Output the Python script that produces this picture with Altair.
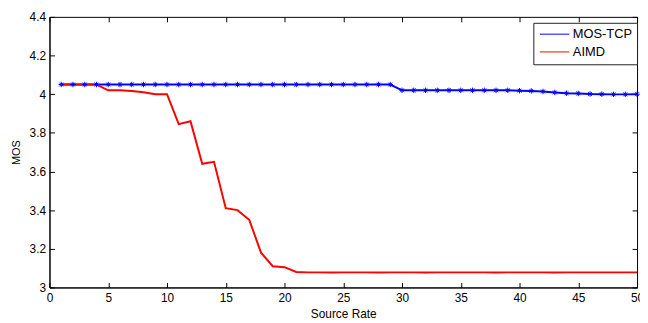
import altair as alt
import pandas as pd

source_rate = [1, 2, 3, 4, 5, 6, 7, 8, 9, 10,
               11, 12, 13, 14, 15, 16, 17, 18, 19, 20,
               21, 22, 23, 24, 25, 26, 27, 28, 29, 30,
               31, 32, 33, 34, 35, 36, 37, 38, 39, 40,
               41, 42, 43, 44, 45, 46, 47, 48, 49, 50]

mos_tcp = [4.05, 4.05, 4.05, 4.05, 4.05, 4.05, 4.05, 4.05, 4.05, 4.05,
           4.05, 4.05, 4.05, 4.05, 4.05, 4.05, 4.05, 4.05, 4.05, 4.05,
           4.05, 4.05, 4.05, 4.05, 4.05, 4.05, 4.05, 4.05, 4.05, 4.02,
           4.02, 4.02, 4.02, 4.02, 4.02, 4.02, 4.02, 4.02, 4.02, 4.018,
           4.017, 4.014, 4.009, 4.005, 4.004, 4.001, 4.0, 3.999, 3.999, 4.0]

aimd = [4.05, 4.05, 4.05, 4.05, 4.02, 4.02, 4.017, 4.01, 4.0, 4.0,
        3.845, 3.86, 3.64, 3.65, 3.41, 3.40, 3.35, 3.18, 3.11, 3.105,
        3.08, 3.078, 3.078, 3.077, 3.078, 3.078, 3.078, 3.077, 3.078, 3.078,
        3.078, 3.077, 3.078, 3.078, 3.078, 3.078, 3.078, 3.077, 3.078, 3.078,
        3.078, 3.078, 3.077, 3.078, 3.078, 3.078, 3.078, 3.078, 3.078, 3.078]

series_names = ["MOS-TCP", "AIMD"]
series_colors = ["#0000ff", "#ff0000"]
x_ticks = [0, 5, 10, 15, 20, 25, 30, 35, 40, 45, 50]
y_ticks = [3.0, 3.2, 3.4, 3.6, 3.8, 4.0, 4.2, 4.4]

df = pd.DataFrame({
    "series": [series_names[0]] * len(source_rate) + [series_names[1]] * len(source_rate),
    "x": source_rate + source_rate,
    "mos": mos_tcp + aimd,
})

W, H = 595, 274
FONT = "Liberation Sans"

xscale = alt.Scale(domain=[0, 50], nice=False, zero=False)
yscale = alt.Scale(domain=[3, 4.4], nice=False, zero=False)
color = alt.Color(
    "series:N",
    scale=alt.Scale(domain=series_names, range=series_colors),
    legend=alt.Legend(
        title=None, orient="none", legendX=490, legendY=6,
        fillColor="white", strokeColor="#222222", padding=5, rowPadding=4,
        symbolType="M-3,0L3,0", symbolSize=100, symbolStrokeWidth=1,
        symbolOffset=10, labelOffset=12,
        labelFont=FONT, labelFontSize=13, labelColor="black",
    ),
)

main_x = alt.Axis(orient="bottom", values=x_ticks, ticks=False, grid=False,
                  labelPadding=5, labelFlush=False, labelOverlap=False,
                  title="Source Rate", titlePadding=5,
                  domainColor="black", labelFont=FONT, labelFontSize=12,
                  labelColor="black", titleFont=FONT, titleFontSize=12,
                  titleFontWeight="normal", titleColor="black")
main_y = alt.Axis(orient="left", values=y_ticks, format=".1~f", ticks=False,
                  grid=False, labelPadding=4, labelFlush=False, labelOverlap=False,
                  title="MOS", titlePadding=8,
                  domainColor="black", labelFont=FONT, labelFontSize=12,
                  labelColor="black", titleFont=FONT, titleFontSize=11,
                  titleFontWeight="normal", titleColor="black")

in_bottom = alt.Axis(orient="top", offset=-H, values=x_ticks, labels=False,
                     domain=False, ticks=True, tickSize=5, tickColor="black",
                     grid=False, title=None)
in_left = alt.Axis(orient="right", offset=-W, values=y_ticks, labels=False,
                   domain=False, ticks=True, tickSize=5, tickColor="black",
                   grid=False, title=None)
in_top = alt.Axis(orient="bottom", offset=-H, values=x_ticks, labels=False,
                  domain=False, ticks=True, tickSize=5, tickColor="black",
                  grid=False, title=None)
in_right = alt.Axis(orient="left", offset=-W, values=y_ticks, labels=False,
                    domain=False, ticks=True, tickSize=5, tickColor="black",
                    grid=False, title=None)

base = alt.Chart(df)

blue_line = base.transform_filter(alt.datum.series == "MOS-TCP").mark_line(
    strokeWidth=2).encode(
    x=alt.X("x:Q", scale=xscale, axis=main_x),
    y=alt.Y("mos:Q", scale=yscale, axis=main_y),
    color=color,
)
red_line = base.transform_filter(alt.datum.series == "AIMD").mark_line(
    strokeWidth=2).encode(
    x=alt.X("x:Q", scale=xscale, axis=in_bottom),
    y=alt.Y("mos:Q", scale=yscale, axis=in_left),
    color=color,
)
star = "M-1,0L1,0M0,-1L0,1M-0.7,-0.7L0.7,0.7M-0.7,0.7L0.7,-0.7"
blue_pts = base.transform_filter(alt.datum.series == "MOS-TCP").mark_point(
    shape=star, size=30, filled=False, strokeWidth=1, color="#0000ff",
    opacity=1).encode(
    x=alt.X("x:Q", scale=xscale, axis=in_top),
    y=alt.Y("mos:Q", scale=yscale, axis=in_right),
)

chart = alt.layer(blue_line, red_line, blue_pts).resolve_axis(
    x="independent", y="independent"
).properties(
    width=W, height=H,
    autosize=alt.AutoSizeParams(type="none"),
    padding={"left": 42, "top": 7, "right": 3, "bottom": 33},
).configure_view(stroke="black", strokeWidth=1)

chart.save("out.html", embed_options={"renderer": "svg", "actions": False})
